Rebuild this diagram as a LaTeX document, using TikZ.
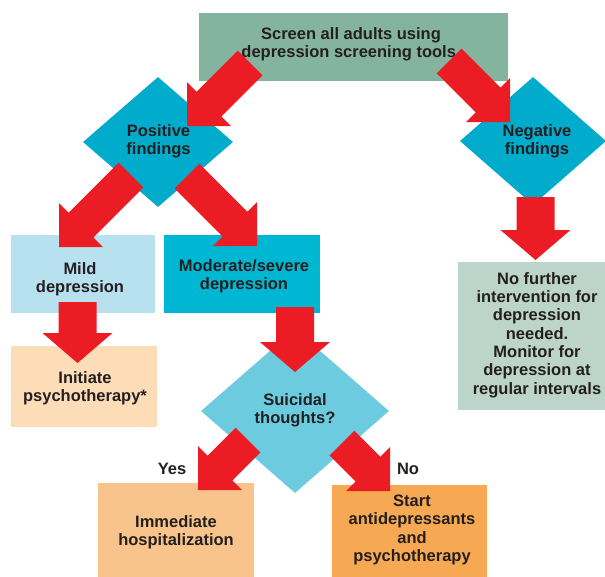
\documentclass[tikz,border=0pt]{standalone}
\usepackage{fontspec}
\setmainfont{Liberation Sans}
\usetikzlibrary{shapes.geometric,calc}
\definecolor{topgreen}{HTML}{84B4A0}
\definecolor{diablue}{HTML}{00ABCC}
\definecolor{mildc}{HTML}{B8E1EF}
\definecolor{modc}{HTML}{00B7D3}
\definecolor{initc}{HTML}{FDDCB8}
\definecolor{suic}{HTML}{6CCBDF}
\definecolor{immc}{HTML}{F9C48C}
\definecolor{startc}{HTML}{F6A852}
\definecolor{nofc}{HTML}{BDD4CA}
\definecolor{arrowred}{HTML}{EC1C24}
\definecolor{textdark}{HTML}{231F20}
% #1 tail, #2 tip, #3 shaft half width, #4 head half width, #5 head length
\newcommand\fatarrow[5]{%
  \coordinate (hb) at ($(#2)!#5!(#1)$);
  \fill[arrowred] (#2) -- ($(hb)!#4!90:(#2)$) -- ($(hb)!#3!90:(#2)$)
    -- ($(#1)!#3!90:(#2)$) -- ($(#1)!#3!-90:(#2)$)
    -- ($(hb)!#3!-90:(#2)$) -- ($(hb)!#4!-90:(#2)$) -- cycle;}
\newcommand\diagarrow[2]{\fatarrow{#1}{#2}{17.5pt}{31pt}{31pt}}
\newcommand\vertarrow[2]{\fatarrow{#1}{#2}{19pt}{35pt}{30pt}}
\tikzset{
  txt/.style={font=\fontsize{16.5}{18.3}\selectfont\bfseries, text=textdark, align=center, inner sep=0pt},
  box/.style={rectangle, inner sep=0pt},
  dia/.style={diamond, inner sep=0pt}
}
\begin{document}
\begin{tikzpicture}[x=1pt,y=-1pt]
\useasboundingbox (0,0) rectangle (605,576);
\fill[white] (0,0) rectangle (605,576);
% shapes
\node[box, fill=topgreen, minimum width=309pt, minimum height=68pt] (screen) at (353.5,47) {};
\node[dia, fill=diablue, minimum width=150pt, minimum height=130pt] (pos) at (158,142) {};
\node[dia, fill=diablue, minimum width=146pt, minimum height=128pt] (neg) at (533,141) {};
\node[box, fill=mildc, minimum width=144pt, minimum height=78pt] (mild) at (83,274) {};
\node[box, fill=modc, minimum width=156pt, minimum height=78pt] (mod) at (242,274) {};
\node[box, fill=initc, minimum width=146pt, minimum height=81pt] (init) at (84,386.5) {};
\node[box, fill=nofc, minimum width=158pt, minimum height=148pt] (nof) at (537,336) {};
\node[dia, fill=suic, minimum width=188pt, minimum height=164pt] (sui) at (295,411) {};
\node[box, fill=immc, minimum width=156pt, minimum height=95pt] (imm) at (176,530.5) {};
\node[box, fill=startc, minimum width=155pt, minimum height=93pt] (start) at (409.5,531.5) {};
% texts
\node[txt] (screent) at (351,44) {Screen all adults using\\depression screening tools.};
\node[txt] (post) at (158.5,141) {Positive\\findings};
\node[txt] (negt) at (537,141.5) {Negative\\findings};
\node[txt] (mildt) at (80,279) {Mild\\depression};
\node[txt] (modt) at (244,276.5) {Moderate/severe\\depression};
\node[txt] (initt) at (85,388) {Initiate\\psychotherapy*};
\node[txt] (noft) at (537,335) {No further\\intervention for\\depression\\needed.\\Monitor for\\depression at\\regular intervals};
\node[txt] (suit) at (295,410) {Suicidal\\thoughts?};
\node[txt] (immt) at (176,532) {Immediate\\hospitalization};
\node[txt] (startt) at (412,530) {Start\\antidepressants\\and\\psychotherapy};
% arrow end points
\coordinate (a1s) at (250,63);   \coordinate (a1e) at (187,126);
\coordinate (a2s) at (449,61);   \coordinate (a2e) at (510,122);
\coordinate (a3s) at (131,175);  \coordinate (a3e) at (59,247);
\coordinate (a4s) at (187,176);  \coordinate (a4e) at (257,246);
\coordinate (a5s) at (535.5,197); \coordinate (a5e) at (535.5,260);
\coordinate (a6s) at (77.5,302); \coordinate (a6e) at (77.5,363);
\coordinate (a7s) at (295,307);  \coordinate (a7e) at (295,372);
\coordinate (a8s) at (248,440);  \coordinate (a8e) at (198,490);
\coordinate (a9s) at (342,443);  \coordinate (a9e) at (390,491);
\diagarrow{a1s}{a1e}
\diagarrow{a2s}{a2e}
\diagarrow{a3s}{a3e}
\diagarrow{a4s}{a4e}
\vertarrow{a5s}{a5e}
\vertarrow{a6s}{a6e}
\vertarrow{a7s}{a7e}
\diagarrow{a8s}{a8e}
\diagarrow{a9s}{a9e}
\node[txt] (yes) at (172,469) {Yes};
\node[txt] (no) at (408,469) {No};
\end{tikzpicture}
\end{document}
